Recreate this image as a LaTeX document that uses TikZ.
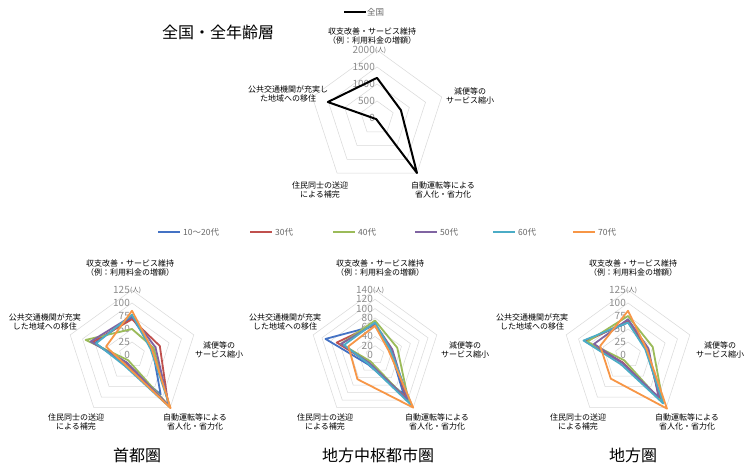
\documentclass[tikz,border=0pt]{standalone}
\usepackage{fontspec}
\setmainfont{Noto Sans CJK JP}
\usetikzlibrary{positioning}

\definecolor{cBlue}{HTML}{4472C4}
\definecolor{cRed}{HTML}{C0504D}
\definecolor{cGreen}{HTML}{9BBB59}
\definecolor{cPurple}{HTML}{8064A2}
\definecolor{cTeal}{HTML}{4BACC6}
\definecolor{cOrange}{HTML}{F79646}

\tikzset{
  grid ring/.style={draw=black!15,line width=0.5pt},
  series/.style={line width=1.8pt,line join=round},
  axis label/.style={font=\fontsize{8}{9}\selectfont,align=center,inner sep=0pt},
  tick label/.style={font=\fontsize{10}{10}\selectfont,text=black!45,anchor=east,inner sep=0pt},
  big title/.style={font=\fontsize{16}{16}\selectfont,inner sep=0pt},
  legend text/.style={font=\fontsize{8.5}{9}\selectfont,text=black!60,anchor=west,inner sep=0pt}
}

% rings of a radar: #1 = radius, #2 = number of rings
\newcommand\radarrings[2]{%
  \foreach \k in {1,...,#2}{
    \draw[grid ring] (90:{#1*\k/#2}) -- (18:{#1*\k/#2}) -- (-54:{#1*\k/#2})
      -- (-126:{#1*\k/#2}) -- (162:{#1*\k/#2}) -- cycle;
  }}
% one data polygon: colour, radius, five fractions
\newcommand\radarline[7]{%
  \draw[series,#1] (90:{#2*#3}) -- (18:{#2*#4}) -- (-54:{#2*#5})
    -- (-126:{#2*#6}) -- (162:{#2*#7}) -- cycle;}

\begin{document}
\begin{tikzpicture}[x=1pt,y=1pt]
  \useasboundingbox[fill=white] (0,0) rectangle (750,472);

  % top chart
  \node[big title] (tAll) at (218,440) {全国・全年齢層};
  \coordinate (kAllA) at (344,460);
  \coordinate (kAllB) at (366,460);
  \draw[line width=2pt] (kAllA) -- (kAllB);
  \node[legend text] (kAll) at (367,460) {全国};
  \begin{scope}[shift={(377,354)}]
    \radarrings{68}{4}
    \foreach \v [count=\i from 0] in {0,500,1000,1500,2000}
      \node[tick label] (tk\i) at (-2,{68*\i/4}) {\v};
    \node[anchor=west,inner sep=0pt,font=\fontsize{6.5}{6.5}\selectfont,text=black!60]
      (uAll) at (tk4.east) {(人)};
    \draw[line width=2pt,line join=round] (90:{68*0.59}) -- (18:{68*0.37}) -- (-54:{68*1.0})
      -- (-126:{68*0.02}) -- (162:{68*0.76}) -- cycle;
  \end{scope}
  \node[axis label] (aT) at (372,436) {収支改善・サービス維持\\（例：利用料金の増額）};
  \node[axis label] (aR) at (470,376) {減便等の\\サービス縮小};
  \node[axis label] (aBR) at (443,282) {自動運転等による\\省人化・省力化};
  \node[axis label] (aBL) at (320,282) {住民同士の送迎\\による補完};
  \node[axis label] (aL) at (288,378) {公共交通機関が充実し\\た地域への移住};

  % legend of the age groups
  \foreach \c/\t/\x in {cBlue/10～20代/158,cRed/30代/250,cGreen/40代/333,
                        cPurple/50代/415,cTeal/60代/493,cOrange/70代/573}{
    \draw[\c,line width=2pt] (\x,240) -- ++(22,0);
    \node[legend text] (k\x) at (\x+25,240) {\t};
  }

  % capital area
  \begin{scope}[shift={(132,117)}]
    \radarrings{65}{5}
    \foreach \v [count=\i from 0] in {0,25,50,75,100,125}
      \node[tick label] (ta\i) at (-2,{65*\i/5}) {\v};
    \node[anchor=west,inner sep=0pt,font=\fontsize{6.5}{6.5}\selectfont,text=black!60] (ua) at (ta5.east) {(人)};
    \radarline{cBlue}{65}{0.58}{0.33}{0.75}{0.18}{0.60}
    \radarline{cRed}{65}{0.55}{0.45}{0.95}{0.15}{0.64}
    \radarline{cGreen}{65}{0.40}{0.35}{0.98}{0.10}{0.75}
    \radarline{cPurple}{65}{0.60}{0.38}{0.97}{0.14}{0.67}
    \radarline{cTeal}{65}{0.62}{0.30}{1.00}{0.20}{0.58}
    \radarline{cOrange}{65}{0.68}{0.32}{1.01}{0.18}{0.42}
  \end{scope}
  \node[axis label] (bT) at (130,204) {収支改善・サービス維持\\（例：利用料金の増額）};
  \node[axis label] (bR) at (219,122) {減便等の\\サービス縮小};
  \node[axis label] (bBR) at (195,50) {自動運転等による\\省人化・省力化};
  \node[axis label] (bBL) at (76,50) {住民同士の送迎\\による補完};
  \node[axis label] (bL) at (45,150) {公共交通機関が充実\\した地域への移住};
  \node[big title] (tA) at (137,17) {首都圏};

  % regional hub cities
  \begin{scope}[shift={(375,117)}]
    \radarrings{65}{7}
    \foreach \v [count=\i from 0] in {0,20,40,60,80,100,120,140}
      \node[tick label] (tb\i) at (-2,{65*\i/7}) {\v};
    \node[anchor=west,inner sep=0pt,font=\fontsize{6.5}{6.5}\selectfont,text=black!60] (ub) at (tb7.east) {(人)};
    \radarline{cBlue}{65}{0.45}{0.25}{0.75}{0.18}{0.80}
    \radarline{cRed}{65}{0.47}{0.27}{0.82}{0.15}{0.62}
    \radarline{cGreen}{65}{0.53}{0.36}{0.88}{0.12}{0.55}
    \radarline{cPurple}{65}{0.48}{0.28}{0.85}{0.15}{0.55}
    \radarline{cTeal}{65}{0.50}{0.25}{0.96}{0.17}{0.50}
    \radarline{cOrange}{65}{0.45}{0.22}{1.00}{0.46}{0.43}
  \end{scope}
  \node[axis label] (cT) at (380,204) {収支改善・サービス維持\\（例：利用料金の増額）};
  \node[axis label] (cR) at (465,122) {減便等の\\サービス縮小};
  \node[axis label] (cBR) at (437,50) {自動運転等による\\省人化・省力化};
  \node[axis label] (cBL) at (325,50) {住民同士の送迎\\による補完};
  \node[axis label] (cL) at (285,150) {公共交通機関が充実\\した地域への移住};
  \node[big title] (tB) at (378,17) {地方中枢都市圏};

  % rural area
  \begin{scope}[shift={(628,117)}]
    \radarrings{65}{5}
    \foreach \v [count=\i from 0] in {0,25,50,75,100,125}
      \node[tick label] (tc\i) at (-2,{65*\i/5}) {\v};
    \node[anchor=west,inner sep=0pt,font=\fontsize{6.5}{6.5}\selectfont,text=black!60] (uc) at (tc5.east) {(人)};
    \radarline{cBlue}{65}{0.50}{0.30}{0.88}{0.15}{0.70}
    \radarline{cRed}{65}{0.52}{0.30}{0.85}{0.14}{0.68}
    \radarline{cGreen}{65}{0.60}{0.40}{0.92}{0.10}{0.66}
    \radarline{cPurple}{65}{0.55}{0.33}{0.80}{0.15}{0.55}
    \radarline{cTeal}{65}{0.50}{0.28}{0.92}{0.18}{0.72}
    \radarline{cOrange}{65}{0.68}{0.30}{1.02}{0.45}{0.45}
  \end{scope}
  \node[axis label] (dT) at (633,204) {収支改善・サービス維持\\（例：利用料金の増額）};
  \node[axis label] (dR) at (720,122) {減便等の\\サービス縮小};
  \node[axis label] (dBR) at (687,50) {自動運転等による\\省人化・省力化};
  \node[axis label] (dBL) at (578,50) {住民同士の送迎\\による補完};
  \node[axis label] (dL) at (532,150) {公共交通機関が充実\\した地域への移住};
  \node[big title] (tC) at (633,17) {地方圏};
\end{tikzpicture}
\end{document}
